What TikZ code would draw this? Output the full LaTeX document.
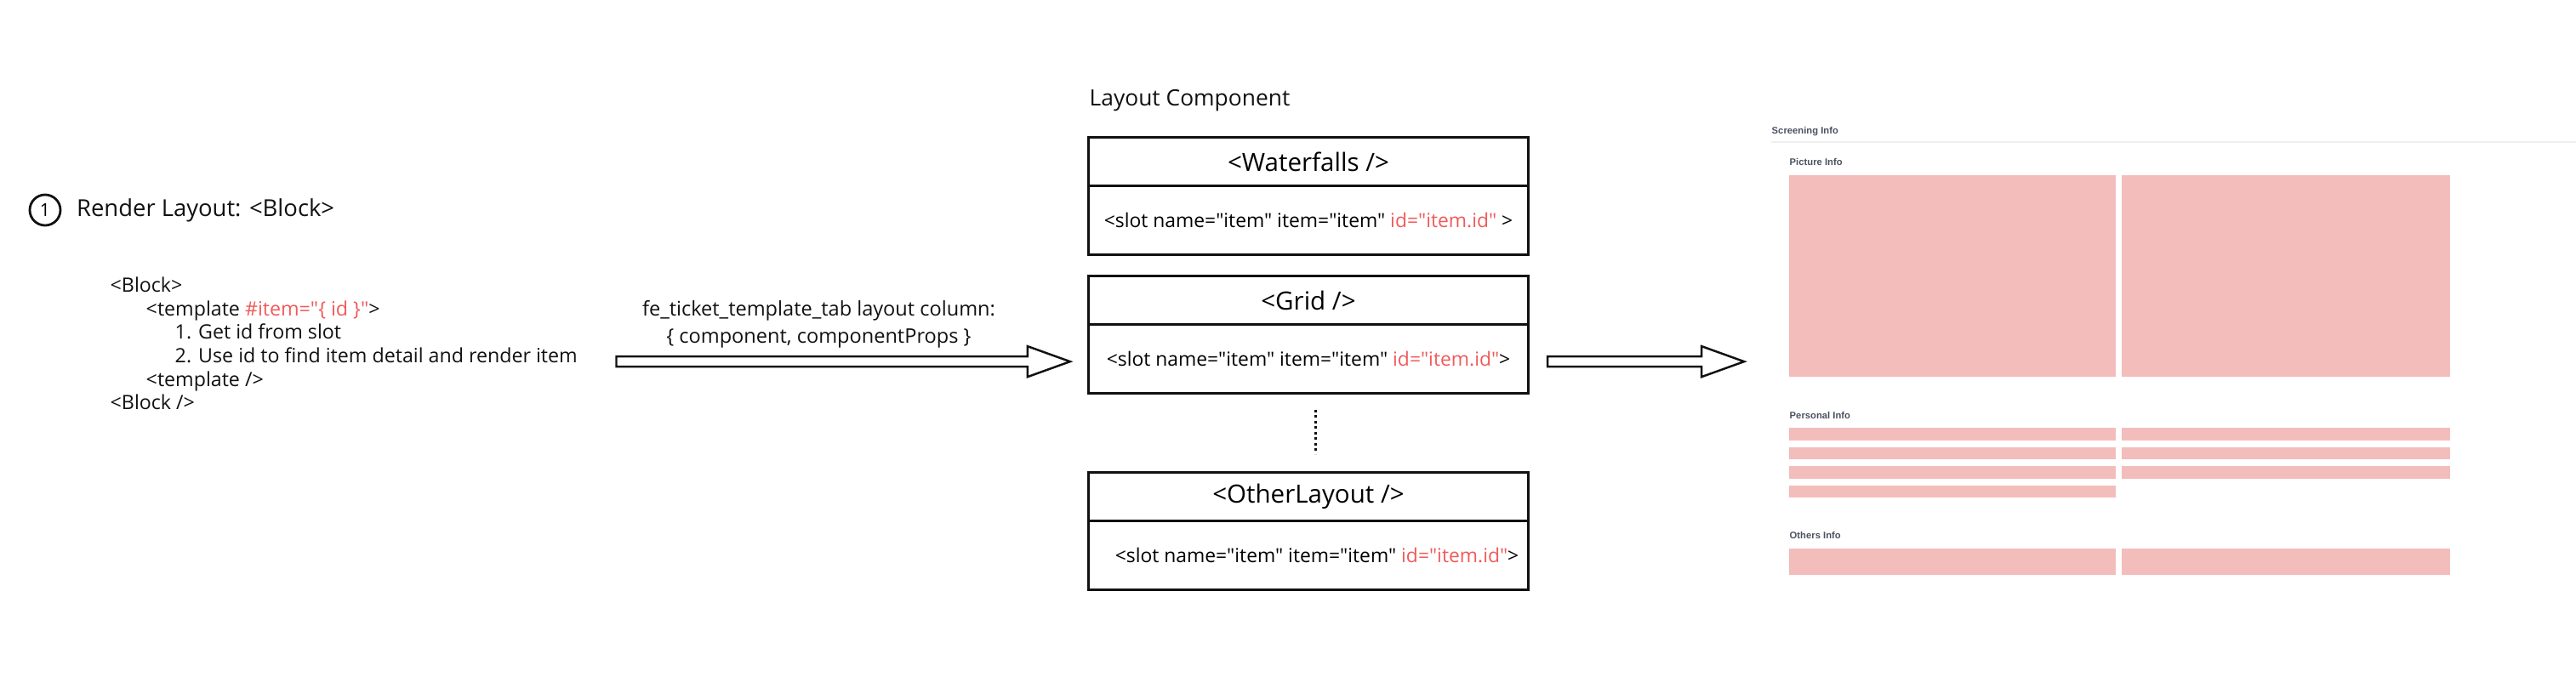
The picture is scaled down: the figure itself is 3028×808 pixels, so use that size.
\documentclass[tikz,border=0pt]{standalone}
\usepackage{fontspec}
\setmainfont{Open Sans}[Ligatures=TeXOff]
\newfontfamily\uifont{Liberation Sans}
\usepackage{xcolor}
\definecolor{cInk}{HTML}{111111}
\definecolor{cRed}{HTML}{F05A5A}
\definecolor{cPink}{HTML}{F3BDBC}
\definecolor{cSlate}{HTML}{4C5161}
\definecolor{cRule}{HTML}{EFEFEF}
\usepackage{tikz}
\usetikzlibrary{positioning,calc}
\tikzset{
  text-title/.style={inner sep=0pt,text=cInk,font=\fontsize{7.8}{9}\selectfont},
  text-code/.style={inner sep=0pt,text=cInk,align=left,
    font=\fontsize{6.6}{7.83}\selectfont},
  text-label/.style={inner sep=0pt,text=cInk,align=center,
    font=\fontsize{6.7}{9.1}\selectfont},
  text-ui/.style={inner sep=0pt,text=cSlate,font=\uifont\bfseries\fontsize{3.2}{4}\selectfont},
  node-step/.style={draw=cInk,line width=0.8pt,circle,minimum size=0.36cm,
    inner sep=0pt,font=\fontsize{6}{7}\selectfont},
  layout-head/.style={draw=cInk,line width=0.8pt,minimum width=5.16cm,
    minimum height=0.57cm,inner sep=0pt,outer sep=0pt,
    font=\fontsize{8.4}{10}\selectfont},
  layout-body/.style={layout-head,minimum height=0.81cm,
    font=\fontsize{6.5}{8}\selectfont},
  arrow-hollow/.style={draw=cInk,line width=0.7pt,fill=white,line join=miter},
  arrow-dots/.style={draw=cInk,line width=0.85pt,dash pattern=on 0.85pt off 1pt},
}
\newcommand{\hl}[1]{\textcolor{cRed}{#1}}
% hollow block arrow from tail #1 to tip #2
\newcommand{\hollowarrow}[2]{%
  \draw[arrow-hollow] let \p1=(#1), \p2=(#2) in
    (\x1,\y1+0.06cm) -- (\x2-0.5cm,\y1+0.06cm) -- (\x2-0.5cm,\y1+0.18cm)
    -- (\x2,\y1) -- (\x2-0.5cm,\y1-0.18cm) -- (\x2-0.5cm,\y1-0.06cm)
    -- (\x1,\y1-0.06cm) -- cycle;}

\begin{document}
\begin{tikzpicture}[x=0.01cm,y=-0.01cm]
  \useasboundingbox (0,0) rectangle (3028,808);
  % step 1: render layout
  \node[node-step] (step) at (53,247) {1};
  \node[text-title,right=0.17cm of step] (render) {Render Layout: <Block>};
  \node[text-code,anchor=west] (code) at (129,404) {%
    <Block>\\
    \hspace*{0.42cm}<template \hl{\#item="\{ id \}"}>\\
    \hspace*{0.76cm}1. Get id from slot\\
    \hspace*{0.76cm}2. Use id to find item detail and render item\\
    \hspace*{0.42cm}<template />\\
    <Block />};

  % layout components
  \node[text-title,anchor=west,font=\fontsize{7.5}{9}\selectfont] (layout) at (1280,118) {Layout Component};
  \node[layout-head] (wf-head) at (1538,190) {<Waterfalls />};
  \node[layout-body,below=0pt of wf-head] (wf-body)
    {<slot name="item" item="item" \hl{id="item.id"} >};
  \node[layout-head,below=0.25cm of wf-body] (grid-head) {<Grid />};
  \node[layout-body,below=0pt of grid-head] (grid-body)
    {<slot name="item" item="item" \hl{id="item.id"}>};
  \node[layout-head,below=0.93cm of grid-body] (other-head) {<OtherLayout />};
  \node[layout-body,below=0pt of other-head] (other-body)
    {\hspace*{0.2cm}<slot name="item" item="item" \hl{id="item.id"}>};
  \draw[arrow-dots] ($(grid-body.south)+(8,19)$) -- ($(other-head.north)+(8,-22)$);

  % arrows
  \coordinate (arr1-tail) at ($(code.east |- grid-body.west)+(45,3)$);
  \coordinate (arr1-tip) at ($(grid-body.west)+(-22,3)$);
  \hollowarrow{arr1-tail}{arr1-tip}
  \node[text-label] (column) at ($(arr1-tail)+(238,-44)$)
    {fe\_ticket\_template\_tab layout column:\\\{ component, componentProps \}};
  \coordinate (arr2-tail) at ($(grid-body.east)+(23,3)$);
  \coordinate (arr2-tip) at ($(grid-body.east)+(254,3)$);
  \hollowarrow{arr2-tail}{arr2-tip}

  % rendered page
  \node[text-ui,anchor=west] (screening) at (2082,155) {Screening Info};
  \draw[cRule,line width=0.6pt] (2082,167) -- (3028,167);
  \node[text-ui,anchor=west] (picture) at (2103,190) {Picture Info};
  \fill[cPink] (2103,206) rectangle (2487,443);
  \fill[cPink] (2494,206) rectangle (2880,443);
  \node[text-ui,anchor=west] (personal) at (2103,488) {Personal Info};
  \fill[cPink] (2103,503) rectangle (2487,518);
  \fill[cPink] (2494,503) rectangle (2880,518);
  \fill[cPink] (2103,526) rectangle (2487,540);
  \fill[cPink] (2494,526) rectangle (2880,540);
  \fill[cPink] (2103,548) rectangle (2487,563);
  \fill[cPink] (2494,548) rectangle (2880,563);
  \fill[cPink] (2103,571) rectangle (2487,585);
  \node[text-ui,anchor=west] (others) at (2103,629) {Others Info};
  \fill[cPink] (2103,645) rectangle (2487,676);
  \fill[cPink] (2494,645) rectangle (2880,676);
\end{tikzpicture}
\end{document}
